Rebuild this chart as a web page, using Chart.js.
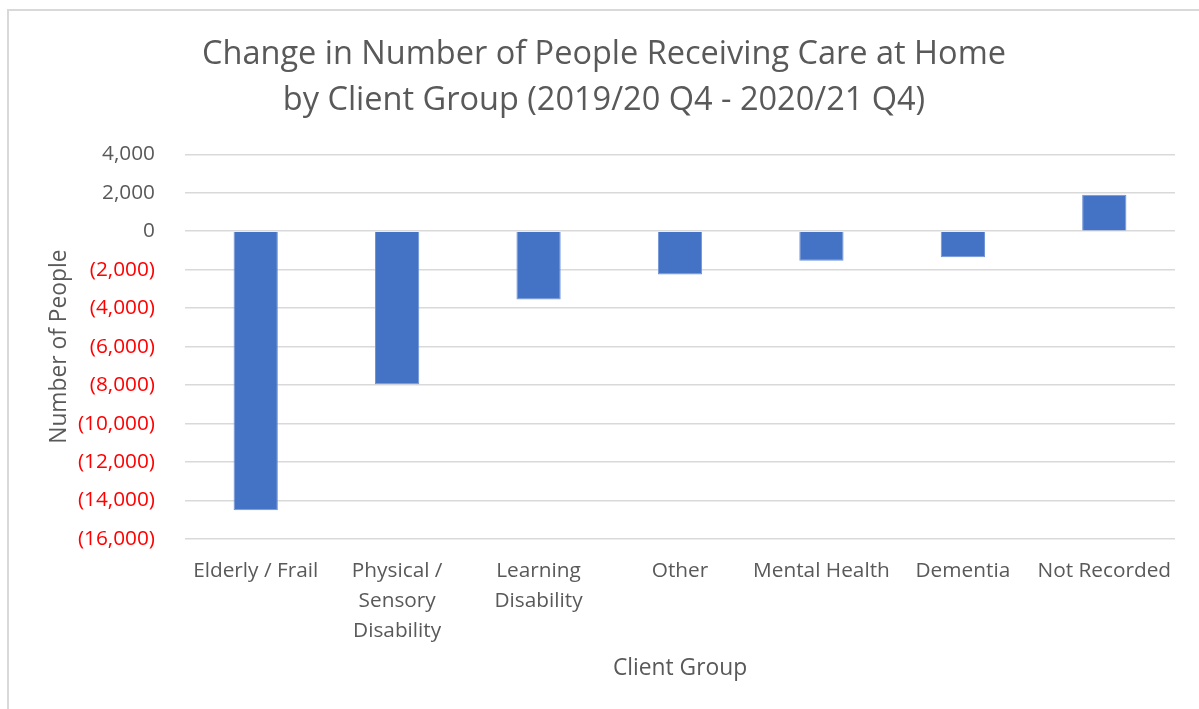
<!DOCTYPE html>
<html>
<head>
<meta charset="utf-8">
<script src="https://cdn.jsdelivr.net/npm/chart.js@4"></script>
<style>
  html, body { margin: 0; padding: 0; background: #ffffff; }
  #wrap { position: absolute; left: 0; top: 0; width: 1199px; height: 709px; }
</style>
</head>
<body>
<div id="wrap"><canvas id="careChart"></canvas></div>
<script>
// Datos del gráfico
const clientGroups = [
    'Elderly / Frail',
    ['Physical /', 'Sensory', 'Disability'],
    ['Learning', 'Disability'],
    'Other',
    'Mental Health',
    'Dementia',
    'Not Recorded'
];
const changeInPeople = [-14500, -7950, -3550, -2250, -1530, -1350, 1900];
const yTickMin = -16000;
const yTickMax = 4000;
const yTickStep = 2000;

const textGrey = '#595959';
const gridGrey = '#d9d9d9';
const fontFamily = '"Open Sans", "Noto Sans", sans-serif';

// Marco gris del cuadro (esquina superior izquierda)
const framePlugin = {
    id: 'frame',
    beforeDraw(chart) {
        const c = chart.ctx;
        c.save();
        c.fillStyle = '#ffffff';
        c.fillRect(0, 0, chart.width, chart.height);
        c.fillStyle = gridGrey;
        c.fillRect(7, 9, 2, chart.height - 9);
        c.fillRect(7, 9, chart.width - 7, 2);
        c.restore();
    }
};

function formatTick(value) {
    const abs = Math.abs(value).toLocaleString('en-US');
    return value < 0 ? '(' + abs + ')' : abs;
}

const ctx = document.getElementById('careChart').getContext('2d');
new Chart(ctx, {
    type: 'bar',
    data: {
        labels: clientGroups,
        datasets: [{
            label: 'Change',
            data: changeInPeople,
            backgroundColor: '#4472c4',
            borderColor: '#6f93d6',
            borderWidth: 1,
            categoryPercentage: 1,
            barPercentage: 0.313
        }]
    },
    options: {
        responsive: true,
        maintainAspectRatio: false,
        animation: false,
        layout: {
            padding: { left: 9, top: 11, right: 0, bottom: 0 }
        },
        plugins: {
            legend: { display: false },
            tooltip: { enabled: false },
            title: {
                display: true,
                text: ['Change in Number of People Receiving Care at Home',
                       'by Client Group (2019/20 Q4 - 2020/21 Q4)'],
                color: textGrey,
                font: { family: fontFamily, size: 32.5, weight: 'normal', lineHeight: 1.42 },
                padding: { top: 21, bottom: 30 }
            }
        },
        scales: {
            x: {
                grid: { display: false, drawTicks: false },
                border: { display: false },
                ticks: {
                    color: textGrey,
                    font: { family: fontFamily, size: 20.8, lineHeight: 1.44 },
                    padding: 17,
                    maxRotation: 0,
                    autoSkip: false
                },
                title: {
                    display: true,
                    text: 'Client Group',
                    color: textGrey,
                    font: { family: fontFamily, size: 22.8 },
                    padding: { top: 27, bottom: 27 }
                },
                afterFit(scale) {
                    scale.height = 170;
                }
            },
            y: {
                min: yTickMin,
                max: yTickMax,
                grid: { color: gridGrey, lineWidth: 1.6, drawTicks: false },
                border: { display: false },
                ticks: {
                    stepSize: yTickStep,
                    padding: 30,
                    font: { family: fontFamily, size: 20.8 },
                    color: function(context) {
                        return context.tick && context.tick.value < 0 ? '#ff0000' : textGrey;
                    },
                    callback: function(value) {
                        return formatTick(value);
                    }
                },
                title: {
                    display: true,
                    text: 'Number of People',
                    color: textGrey,
                    font: { family: fontFamily, size: 22.8 },
                    padding: { top: 37, bottom: 37 }
                },
                afterFit(scale) {
                    scale.width = 176;
                }
            },
            // eje vacío a la derecha, solo para reservar el margen
            yRight: {
                position: 'right',
                display: true,
                grid: { display: false, drawTicks: false },
                border: { display: false },
                ticks: { display: false },
                afterFit(scale) {
                    scale.width = 24;
                }
            }
        }
    },
    plugins: [framePlugin]
});
</script>
</body>
</html>
